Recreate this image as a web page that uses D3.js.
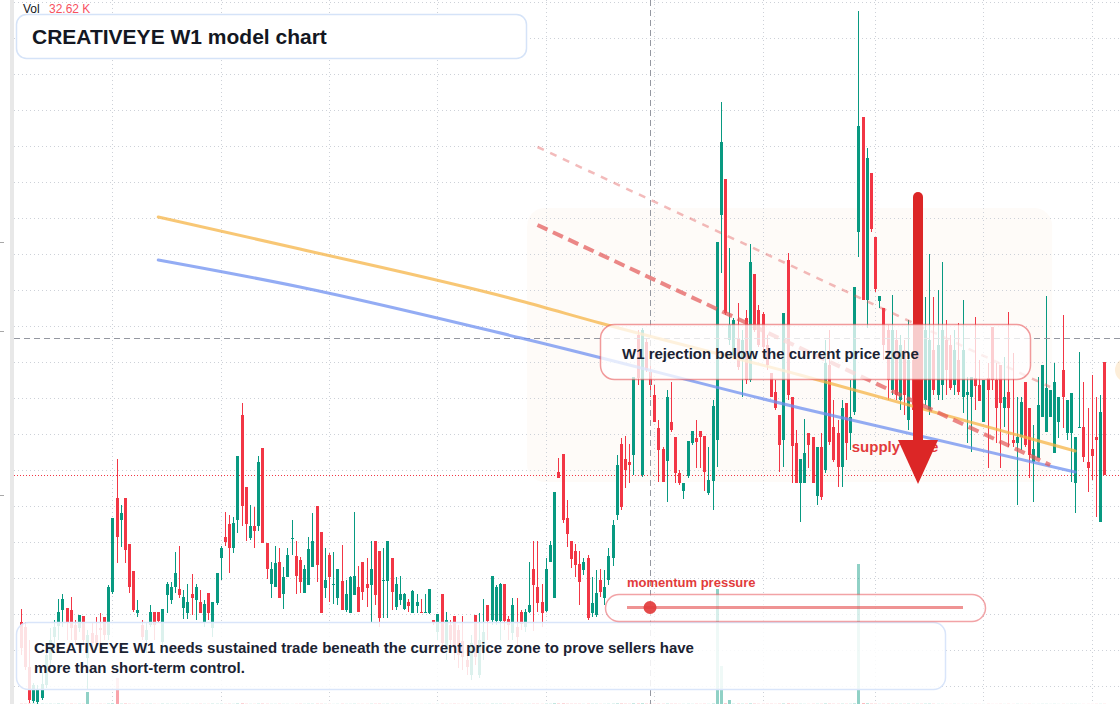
<!DOCTYPE html>
<html>
<head>
<meta charset="utf-8">
<title>CREATIVEYE W1 model chart</title>
<script src="https://cdn.jsdelivr.net/npm/d3@7"></script>
<style>
  html, body { margin: 0; padding: 0; background: #fff; overflow: hidden; }
  svg { display: block; font-family: "Liberation Sans", Arial, Helvetica, sans-serif; }
</style>
</head>
<body>
<div id="chart"></div>
<script>
// weekly candles (index 0 = first visible bar)
const opens = [
  1.00, 0.95, 0.55, 0.21, 0.20, 0.24, 0.37, 0.62, 0.85, 0.96,
  1.12, 1.14, 1.12, 0.97, 0.94, 1.06, 0.64, 0.89, 0.87, 0.94,
  1.05, 0.87, 1.30, 2.24, 2.02, 2.24, 1.78, 1.51, 1.09, 0.97,
  0.82, 0.97, 1.10, 1.10, 0.80, 1.27, 1.22, 1.35, 1.33, 1.14,
  1.09, 1.28, 1.22, 1.20, 1.00, 1.29, 0.94, 1.19, 1.64, 1.85,
  1.98, 1.74, 2.02, 3.07, 2.35, 1.84, 1.96, 1.96, 2.74, 1.79,
  1.38, 1.35, 1.60, 1.28, 1.45, 1.83, 1.66, 1.62, 1.29, 1.37,
  1.55, 2.16, 1.90, 1.34, 1.67, 1.37, 1.24, 1.41, 1.12, 1.09,
  1.27, 1.35, 1.60, 1.38, 1.37, 1.81, 1.71, 1.41, 1.41, 1.64,
  1.15, 1.22, 1.13, 1.20, 1.09, 1.16, 1.10, 1.09, 1.09, 1.02,
  0.90, 1.28, 0.72, 0.97, 1.06, 0.92, 0.81, 0.62, 0.47, 1.07,
  0.47, 0.69, 1.17, 1.02, 1.01, 1.01, 1.38, 1.03, 0.89, 0.95,
  1.10, 0.95, 1.10, 1.53, 1.35, 1.20, 1.11, 1.60, 1.24, 2.50,
  2.68, 2.04, 1.81, 1.71, 1.58, 1.52, 1.64, 1.09, 1.07, 1.42,
  1.24, 1.42, 1.64, 2.07, 2.78, 2.63, 2.60, 2.67, 3.87, 2.47,
  3.80, 3.50, 3.27, 2.94, 2.73, 2.61, 3.00, 2.85, 2.49, 2.31,
  2.46, 2.79, 2.84, 2.91, 2.86, 2.29, 2.41, 2.82, 5.07, 5.43,
  3.82, 3.67, 3.84, 3.62, 4.04, 3.42, 4.48, 4.12, 4.08, 3.77,
  3.49, 3.30, 3.07, 2.82, 4.62, 3.25, 2.79, 2.39, 2.39, 2.89,
  2.85, 2.26, 2.75, 2.52, 3.57, 2.95, 2.89, 2.55, 3.19, 2.89,
  3.10, 4.90, 6.05, 4.22, 5.49, 4.85, 4.21, 4.14, 3.92, 3.32,
  3.82, 3.22, 3.72, 3.02, 3.62, 3.02, 3.52, 3.22, 3.12, 3.72,
  3.27, 3.37, 3.82, 3.77, 3.37, 3.62, 3.25, 3.27, 3.25, 3.44,
  3.37, 3.00, 3.44, 3.95, 3.42, 3.57, 3.14, 3.30, 2.82, 2.79,
  2.85, 3.40, 3.14, 2.60, 2.64, 3.05, 2.90, 3.05, 2.69, 3.00,
  3.52, 2.89, 2.89, 2.39, 2.94, 2.95, 2.60, 2.73, 2.85, 2.00,
  3.60
];
const highs = [
  1.13, 1.00, 0.82, 0.39, 0.37, 0.50, 0.72, 0.94, 1.02, 1.23,
  1.28, 1.14, 1.25, 1.02, 1.07, 1.06, 0.92, 0.99, 1.05, 1.09,
  1.05, 1.37, 2.04, 2.63, 2.17, 2.24, 1.78, 1.51, 1.22, 1.02,
  0.99, 1.17, 1.10, 1.10, 1.13, 1.40, 1.40, 1.70, 1.76, 1.32,
  1.38, 1.48, 1.38, 1.32, 1.22, 1.29, 1.20, 1.49, 1.76, 2.10,
  2.07, 2.05, 2.66, 3.19, 2.35, 2.17, 2.15, 2.66, 2.74, 1.79,
  1.60, 1.76, 1.74, 1.55, 1.74, 2.02, 1.81, 1.65, 1.57, 1.85,
  2.09, 2.16, 1.90, 1.74, 1.69, 1.70, 1.53, 1.77, 1.42, 1.46,
  2.10, 1.56, 1.60, 1.64, 1.81, 1.81, 1.71, 1.74, 1.81, 1.64,
  1.45, 1.46, 1.29, 1.23, 1.32, 1.28, 1.23, 1.28, 1.33, 1.02,
  1.08, 1.28, 1.10, 1.02, 1.06, 0.97, 1.06, 0.77, 0.87, 1.07,
  1.09, 1.23, 1.17, 1.46, 1.37, 1.39, 1.38, 1.06, 1.24, 1.24,
  1.12, 1.13, 1.60, 1.81, 1.81, 1.38, 1.64, 1.81, 2.30, 2.64,
  2.68, 2.22, 1.81, 1.78, 1.71, 1.64, 1.67, 1.45, 1.52, 1.53,
  1.52, 1.74, 2.02, 2.67, 2.84, 2.86, 2.78, 3.45, 3.92, 3.94,
  3.84, 3.57, 3.37, 3.02, 2.75, 3.32, 3.40, 2.85, 2.52, 2.39,
  2.81, 2.91, 3.02, 2.91, 2.86, 2.75, 3.22, 4.80, 6.20, 5.43,
  4.74, 4.04, 4.19, 3.92, 4.12, 4.78, 4.48, 4.17, 4.10, 3.87,
  3.49, 3.42, 3.07, 4.09, 4.69, 3.25, 2.92, 2.63, 3.03, 2.89,
  2.85, 2.75, 2.89, 3.82, 3.92, 3.22, 3.02, 3.22, 3.19, 3.42,
  4.35, 7.11, 6.05, 5.74, 5.49, 4.85, 4.26, 4.14, 3.97, 4.27,
  3.92, 3.87, 3.82, 4.02, 3.92, 3.72, 3.77, 4.25, 4.68, 4.25,
  4.32, 4.60, 4.02, 3.87, 3.92, 3.99, 4.22, 3.45, 3.45, 4.05,
  3.62, 3.42, 3.59, 3.95, 3.59, 3.57, 3.65, 4.10, 3.69, 3.25,
  3.25, 3.40, 3.14, 2.97, 3.45, 3.57, 4.26, 3.32, 3.59, 3.25,
  4.07, 3.22, 3.29, 2.85, 3.70, 3.40, 3.14, 3.47, 3.25, 3.27,
  3.60
];
const lows = [
  0.67, 0.52, 0.19, 0.19, 0.18, 0.22, 0.34, 0.57, 0.72, 0.82,
  0.95, 0.82, 0.82, 0.77, 0.90, 0.77, 0.32, 0.69, 0.72, 0.75,
  0.82, 0.82, 1.28, 1.59, 1.75, 1.59, 1.29, 1.10, 1.05, 0.82,
  0.69, 0.95, 0.82, 1.00, 0.77, 1.09, 1.18, 1.29, 1.24, 1.03,
  1.03, 1.07, 1.02, 1.09, 0.95, 1.02, 0.85, 1.17, 1.42, 1.76,
  1.49, 1.69, 1.89, 1.96, 1.81, 1.82, 1.74, 1.91, 1.79, 1.43,
  1.24, 1.35, 1.24, 1.13, 1.45, 1.67, 1.28, 1.29, 1.29, 1.37,
  1.55, 1.40, 1.09, 1.24, 1.20, 1.18, 1.17, 1.12, 1.10, 1.09,
  1.27, 1.10, 1.22, 1.15, 1.00, 1.17, 0.95, 1.04, 1.04, 1.12,
  1.12, 1.17, 1.12, 1.10, 1.09, 1.09, 1.09, 1.09, 1.08, 0.97,
  0.82, 0.72, 0.62, 0.72, 0.62, 0.54, 0.52, 0.47, 0.42, 0.57,
  0.44, 0.62, 0.82, 0.97, 0.97, 0.82, 0.92, 0.82, 0.82, 0.77,
  0.92, 0.90, 1.09, 0.91, 1.10, 0.95, 1.10, 1.60, 1.24, 2.44,
  1.99, 1.75, 1.54, 1.45, 1.17, 1.47, 1.02, 1.05, 1.05, 1.25,
  1.17, 1.37, 1.56, 2.02, 2.12, 2.34, 2.39, 2.47, 3.37, 2.45,
  3.50, 3.25, 3.00, 2.40, 2.40, 2.20, 2.90, 2.39, 2.37, 2.23,
  2.44, 2.77, 2.54, 2.54, 2.31, 2.27, 2.12, 2.55, 4.49, 4.07,
  3.77, 3.65, 3.52, 3.25, 3.38, 3.40, 3.90, 3.75, 3.72, 3.52,
  3.25, 3.12, 2.50, 2.55, 3.22, 2.39, 2.39, 2.00, 2.39, 2.54,
  2.39, 2.17, 2.22, 2.49, 2.77, 2.60, 2.35, 2.35, 2.62, 2.72,
  3.07, 4.65, 4.22, 3.94, 4.90, 4.30, 4.14, 3.62, 3.22, 3.27,
  3.22, 3.12, 3.07, 2.92, 3.02, 2.92, 3.17, 3.17, 3.07, 3.27,
  3.22, 3.22, 3.27, 3.32, 3.27, 3.27, 3.09, 2.79, 2.70, 3.12,
  3.21, 3.00, 2.54, 3.32, 2.79, 2.54, 2.95, 2.75, 2.75, 2.17,
  2.72, 2.75, 2.44, 2.20, 2.64, 3.05, 2.90, 3.05, 2.69, 2.84,
  2.94, 2.82, 2.40, 2.09, 2.94, 2.60, 2.30, 2.42, 2.05, 2.00,
  2.47
];
const closes = [
  0.74, 0.55, 0.22, 0.37, 0.32, 0.38, 0.67, 0.82, 0.95, 1.10,
  1.23, 1.00, 0.94, 0.82, 1.07, 0.82, 0.87, 0.79, 0.79, 0.92,
  0.87, 1.35, 2.04, 1.85, 2.09, 1.72, 1.35, 1.12, 1.12, 0.85,
  0.92, 1.10, 0.97, 1.01, 1.13, 1.38, 1.35, 1.49, 1.27, 1.25,
  1.20, 1.24, 1.35, 1.09, 1.18, 1.09, 1.20, 1.49, 1.74, 1.80,
  1.74, 1.99, 2.66, 2.16, 1.98, 1.96, 1.91, 2.60, 1.79, 1.53,
  1.53, 1.59, 1.24, 1.45, 1.67, 1.84, 1.46, 1.40, 1.53, 1.73,
  1.81, 1.57, 1.09, 1.42, 1.45, 1.38, 1.53, 1.12, 1.28, 1.45,
  1.46, 1.10, 1.30, 1.34, 1.53, 1.27, 1.04, 1.42, 1.81, 1.30,
  1.38, 1.28, 1.28, 1.16, 1.31, 1.20, 1.09, 1.10, 1.33, 1.00,
  1.08, 0.79, 1.02, 0.82, 0.75, 0.67, 0.65, 0.55, 0.79, 0.65,
  0.82, 0.90, 1.01, 1.46, 1.35, 1.38, 1.01, 0.97, 1.17, 0.85,
  0.98, 1.10, 1.17, 1.37, 1.19, 1.09, 1.53, 1.77, 2.30, 2.44,
  2.02, 1.88, 1.63, 1.57, 1.40, 1.60, 1.04, 1.19, 1.29, 1.30,
  1.35, 1.66, 1.97, 2.57, 2.15, 2.52, 2.57, 3.45, 3.44, 3.92,
  3.52, 3.37, 3.00, 2.72, 2.40, 3.25, 2.92, 2.49, 2.39, 2.39,
  2.81, 2.91, 2.80, 2.85, 2.50, 2.42, 3.16, 4.80, 5.80, 4.09,
  3.97, 4.02, 3.55, 3.82, 3.42, 4.60, 3.92, 3.77, 3.75, 3.57,
  3.25, 3.14, 2.77, 4.09, 3.27, 2.76, 2.39, 2.63, 2.69, 2.77,
  2.39, 2.75, 2.25, 3.59, 2.80, 2.62, 2.55, 3.14, 2.79, 3.05,
  4.35, 5.96, 4.22, 5.64, 4.93, 4.33, 4.26, 3.77, 3.42, 3.92,
  3.27, 3.77, 3.27, 3.62, 3.12, 3.52, 3.22, 3.92, 3.82, 3.32,
  3.77, 3.92, 3.52, 3.34, 3.72, 3.30, 3.72, 3.30, 3.45, 3.36,
  3.21, 3.42, 3.32, 3.42, 3.14, 3.19, 3.25, 3.14, 2.79, 2.85,
  3.20, 2.77, 2.67, 2.73, 3.17, 3.57, 3.34, 3.32, 3.40, 3.25,
  3.25, 3.22, 3.29, 2.85, 2.95, 2.65, 2.54, 2.66, 2.82, 3.10,
  2.47
];
// volume in thousands
const volumes = [
  1.0, 0.8, 1.5, 1.2, 0.8, 1.0, 0.5, 0.8, 0.5, 1.2,
  0.8, 0.5, 1.0, 0.5, 0.8, 0.8, 48, 0.5, 0.5, 0.8,
  0.5, 1.2, 2.2, 104, 1.0, 1.5, 0.8, 0.5, 0.5, 0.8,
  0.5, 0.8, 0.5, 0.3, 1.0, 0.8, 0.5, 0.8, 0.5, 0.5,
  0.8, 0.5, 0.5, 0.8, 0.5, 0.5, 1.0, 0.8, 0.8, 0.5,
  0.8, 0.5, 1.5, 2.0, 0.8, 0.5, 0.5, 1.0, 1.2, 0.8,
  0.5, 0.5, 0.8, 0.5, 0.5, 0.3, 0.5, 0.8, 0.5, 0.8,
  0.8, 1.0, 0.8, 0.5, 0.5, 0.3, 0.5, 0.8, 0.5, 0.5,
  0.8, 0.5, 0.5, 0.5, 0.8, 0.8, 1.0, 0.5, 0.8, 0.5,
  0.5, 0.5, 0.3, 0.3, 0.5, 0.3, 0.3, 0.3, 0.5, 0.3,
  0.5, 0.8, 0.5, 0.5, 0.8, 0.5, 0.5, 0.5, 0.8, 0.5,
  0.8, 0.5, 0.5, 1.0, 0.8, 0.8, 0.8, 0.5, 0.8, 0.5,
  0.5, 0.5, 0.5, 0.8, 0.8, 0.5, 1.0, 0.8, 2.2, 1.5,
  1.8, 1.0, 0.8, 0.8, 0.8, 0.5, 1.0, 0.8, 0.8, 0.5,
  0.5, 0.8, 1.0, 1.8, 1.5, 1.0, 0.8, 2.0, 1.5, 2.2,
  1.2, 1.0, 0.8, 1.0, 0.8, 1.2, 0.8, 0.8, 0.5, 0.5,
  0.8, 0.5, 0.8, 0.5, 0.8, 0.5, 1.5, 460, 152, 2.2,
  16, 1.0, 1.2, 1.0, 1.0, 1.8, 1.2, 0.8, 0.8, 0.8,
  0.8, 0.5, 1.0, 1.5, 1.8, 1.0, 0.8, 0.8, 0.5, 0.5,
  0.8, 0.8, 0.8, 1.5, 1.2, 0.8, 0.8, 1.0, 0.8, 0.8,
  2.0, 560, 3.0, 2.2, 1.2, 1.0, 0.5, 0.8, 1.0, 1.0,
  0.8, 0.8, 0.8, 1.0, 0.8, 0.8, 0.8, 1.0, 1.2, 0.8,
  0.5, 0.5, 0.3, 0.3, 0.5, 0.3, 0.5, 0.3, 0.3, 0.5,
  0.3, 0.3, 0.5, 0.3, 0.3, 0.5, 0.3, 0.5, 0.3, 0.5,
  0.3, 0.3, 0.5, 0.3, 0.3, 0.5, 0.5, 0.3, 0.5, 0.3,
  0.5, 0.3, 0.5, 0.5, 0.3, 0.3, 0.3, 0.3, 0.5, 0.5,
  0.5
];

// grid: price levels and the bar indexes where the time grid falls
const gridPrices = [7.20, 6.84, 6.48, 6.12, 5.76, 5.40, 5.04, 4.68, 4.32, 3.96,
  3.60, 3.24, 2.88, 2.52, 2.16, 1.80, 1.44, 1.08, 0.72, 0.36];
const gridBars = [22, 48, 74, 100, 126, 152, 178, 205, 231, 257];
const axisMarks = [4.80, 3.91, 2.27];

const lastPrice = 2.47;
const crossBar = 151;
const crossPrice = 3.84;
const volLabel = "32.62 K";

// model overlays
const orangeBars = [33, 67, 120, 139, 187, 253];
const orangePrices = [5.05, 4.73, 4.21, 3.99, 3.47, 2.71];
const blueBars = [33, 67, 120, 187, 253];
const bluePrices = [4.62, 4.35, 3.84, 3.14, 2.50];
const rejectBars = [124, 247];
const rejectPrices = [4.97, 2.57];
const upperBars = [124, 247];
const upperPrices = [5.75, 3.35];
const zoneBars = [121.5, 247.5];
const zonePrices = [5.14, 2.40];
const arrowBar = 215.3;
const arrowPrices = [5.25, 2.82, 2.38]; // top, head base, tip

const title = "CREATIVEYE W1 model chart";
const noteLines = [
  "CREATIVEYE W1 needs sustained trade beneath the current price zone to prove sellers have",
  "more than short-term control."
];
const calloutText = "W1 rejection below the current price zone";

const width = 1120;
const height = 704;
const upColor = "#089981";
const downColor = "#f23645";

let svg = d3
  .select("#chart")
  .append("svg")
  .attr("width", width)
  .attr("height", height)
  .attr("viewBox", `0 0 ${width} ${height}`);

let x = d3.scaleLinear().domain([0, 260]).range([20.7, 1104.3]);
let y = d3.scaleLinear().domain([0, 7.22]).range([722, 0]);
let yVol = d3.scaleLinear().domain([0, 700]).range([height, height - 175]);

let bars = opens.map((o, i) => ({
  i: i,
  o: o,
  h: highs[i],
  l: lows[i],
  c: closes[i],
  v: volumes[i],
}));

svg.append("rect").attr("width", width).attr("height", height).attr("fill", "#fff");

// supply zone shading
svg
  .append("rect")
  .attr("x", x(zoneBars[0]))
  .attr("y", y(zonePrices[0]))
  .attr("width", x(zoneBars[1]) - x(zoneBars[0]))
  .attr("height", y(zonePrices[1]) - y(zonePrices[0]))
  .attr("rx", 18)
  .attr("fill", "rgba(240,150,70,0.035)");

// grid
let grid = svg.append("g").attr("stroke", "#cdd1d8").attr("stroke-width", 1).attr("stroke-dasharray", "1,3");
grid
  .selectAll("line.h")
  .data(gridPrices)
  .enter()
  .append("line")
  .attr("x1", 14)
  .attr("x2", width)
  .attr("y1", (d) => Math.round(y(d)) + 0.5)
  .attr("y2", (d) => Math.round(y(d)) + 0.5);
grid
  .selectAll("line.v")
  .data(gridBars)
  .enter()
  .append("line")
  .attr("x1", (d) => Math.round(x(d)) + 0.5)
  .attr("x2", (d) => Math.round(x(d)) + 0.5)
  .attr("y1", 0)
  .attr("y2", height);

// left edge strip
svg.append("rect").attr("x", 10).attr("y", 0).attr("width", 4).attr("height", height).attr("fill", "#e8e8e8");
svg
  .selectAll("line.mark")
  .data(axisMarks)
  .enter()
  .append("line")
  .attr("x1", 0)
  .attr("x2", 4)
  .attr("y1", (d) => Math.round(y(d)) + 0.5)
  .attr("y2", (d) => Math.round(y(d)) + 0.5)
  .attr("stroke", "#a8a8a8");

// volume histogram
svg
  .append("g")
  .selectAll("rect")
  .data(bars)
  .enter()
  .append("rect")
  .attr("x", (d) => Math.round(x(d.i)) - 1)
  .attr("width", 3)
  .attr("y", (d) => yVol(d.v))
  .attr("height", (d) => height - yVol(d.v))
  .attr("fill", (d) => (d.c >= d.o ? "rgba(8,153,129,0.45)" : "rgba(242,54,69,0.45)"));

// last price line
svg
  .append("line")
  .attr("x1", 14)
  .attr("x2", width)
  .attr("y1", Math.round(y(lastPrice)) + 0.5)
  .attr("y2", Math.round(y(lastPrice)) + 0.5)
  .attr("stroke", downColor)
  .attr("stroke-width", 1)
  .attr("stroke-dasharray", "1,2");

// candles
let gCandles = svg.append("g");
gCandles
  .selectAll("rect.wick")
  .data(bars)
  .enter()
  .append("rect")
  .attr("x", (d) => Math.round(x(d.i)))
  .attr("width", 1)
  .attr("y", (d) => y(d.h))
  .attr("height", (d) => Math.max(1, y(d.l) - y(d.h)))
  .attr("fill", (d) => (d.c >= d.o ? upColor : downColor));
gCandles
  .selectAll("rect.body")
  .data(bars)
  .enter()
  .append("rect")
  .attr("x", (d) => Math.round(x(d.i)) - 1)
  .attr("width", 3)
  .attr("y", (d) => y(Math.max(d.o, d.c)))
  .attr("height", (d) => Math.max(1, Math.abs(y(d.o) - y(d.c))))
  .attr("fill", (d) => (d.c >= d.o ? upColor : downColor));

// crosshair
svg
  .append("line")
  .attr("x1", Math.round(x(crossBar)) + 0.5)
  .attr("x2", Math.round(x(crossBar)) + 0.5)
  .attr("y1", 0)
  .attr("y2", height)
  .attr("stroke", "#9598a1")
  .attr("stroke-dasharray", "6,4");
svg
  .append("line")
  .attr("x1", 14)
  .attr("x2", width)
  .attr("y1", Math.round(y(crossPrice)) + 0.5)
  .attr("y2", Math.round(y(crossPrice)) + 0.5)
  .attr("stroke", "#9598a1")
  .attr("stroke-dasharray", "6,4");

// model lines
let curve = d3
  .line()
  .x((d) => x(d[0]))
  .y((d) => y(d[1]))
  .curve(d3.curveMonotoneX);

svg
  .append("path")
  .attr("d", curve(orangeBars.map((b, k) => [b, orangePrices[k]])))
  .attr("fill", "none")
  .attr("stroke", "#f6b447")
  .attr("stroke-opacity", 0.75)
  .attr("stroke-width", 3)
  .attr("stroke-linecap", "round");
svg
  .append("path")
  .attr("d", curve(blueBars.map((b, k) => [b, bluePrices[k]])))
  .attr("fill", "none")
  .attr("stroke", "#6f90f0")
  .attr("stroke-opacity", 0.75)
  .attr("stroke-width", 3)
  .attr("stroke-linecap", "round");
svg
  .append("path")
  .attr("d", curve(upperBars.map((b, k) => [b, upperPrices[k]])))
  .attr("fill", "none")
  .attr("stroke", "#e25555")
  .attr("stroke-opacity", 0.4)
  .attr("stroke-width", 2.5)
  .attr("stroke-dasharray", "7,7");
svg
  .append("path")
  .attr("d", curve(rejectBars.map((b, k) => [b, rejectPrices[k]])))
  .attr("fill", "none")
  .attr("stroke", "#e25555")
  .attr("stroke-opacity", 0.7)
  .attr("stroke-width", 4)
  .attr("stroke-dasharray", "11,6");

// right edge marker
svg.append("circle").attr("cx", 1127).attr("cy", y(3.52)).attr("r", 12).attr("fill", "rgba(246,178,80,0.22)");

// supply label and arrow
svg
  .append("text")
  .attr("x", x(199.4))
  .attr("y", 452)
  .attr("font-size", 15)
  .attr("font-weight", "bold")
  .attr("fill", "#e23b3b")
  .text("supply zone");

let ax = x(arrowBar);
svg
  .append("line")
  .attr("x1", ax)
  .attr("x2", ax)
  .attr("y1", y(arrowPrices[0]))
  .attr("y2", y(arrowPrices[1]) + 4)
  .attr("stroke", "#dc2626")
  .attr("stroke-width", 10)
  .attr("stroke-linecap", "round");
svg
  .append("path")
  .attr(
    "d",
    `M${ax - 20},${y(arrowPrices[1])} L${ax + 20},${y(arrowPrices[1])} L${ax},${y(arrowPrices[2])} Z`
  )
  .attr("fill", "#dc2626");

// callout box
svg
  .append("rect")
  .attr("x", 600.5)
  .attr("y", 324.5)
  .attr("width", 430)
  .attr("height", 55)
  .attr("rx", 14)
  .attr("fill", "rgba(255,255,255,0.76)")
  .attr("stroke", "rgba(229,72,77,0.55)")
  .attr("stroke-width", 1.5);
svg
  .append("text")
  .attr("x", 622)
  .attr("y", 359)
  .attr("font-size", 15)
  .attr("font-weight", "bold")
  .attr("fill", "#1b2333")
  .text(calloutText);

// bottom note
svg
  .append("rect")
  .attr("x", 16.5)
  .attr("y", 622.5)
  .attr("width", 929)
  .attr("height", 67)
  .attr("rx", 12)
  .attr("fill", "rgba(255,255,255,0.86)")
  .attr("stroke", "#d9e5fa")
  .attr("stroke-width", 1.5);
svg
  .append("g")
  .selectAll("text")
  .data(noteLines)
  .enter()
  .append("text")
  .attr("x", 34)
  .attr("y", (d, i) => 653 + i * 20)
  .attr("font-size", 15)
  .attr("font-weight", "bold")
  .attr("fill", "#1b2333")
  .text((d) => d);

// momentum pressure slider
svg
  .append("text")
  .attr("x", 627)
  .attr("y", 587)
  .attr("font-size", 13)
  .attr("font-weight", "bold")
  .attr("fill", "#e23b3b")
  .text("momentum pressure");
svg
  .append("rect")
  .attr("x", 605.5)
  .attr("y", 594.5)
  .attr("width", 380)
  .attr("height", 27)
  .attr("rx", 13.5)
  .attr("fill", "rgba(255,255,255,0.65)")
  .attr("stroke", "rgba(229,72,77,0.5)")
  .attr("stroke-width", 1.5);
svg
  .append("line")
  .attr("x1", 627)
  .attr("x2", 963)
  .attr("y1", 607.5)
  .attr("y2", 607.5)
  .attr("stroke", "rgba(226,59,59,0.55)")
  .attr("stroke-width", 3);
svg
  .append("circle")
  .attr("cx", x(crossBar))
  .attr("cy", 607.5)
  .attr("r", 6.5)
  .attr("fill", "#e23b3b")
  .attr("fill-opacity", 0.92);

// title
svg
  .append("rect")
  .attr("x", 16.5)
  .attr("y", 14.5)
  .attr("width", 510)
  .attr("height", 44)
  .attr("rx", 10)
  .attr("fill", "#fff")
  .attr("stroke", "#d5e3f8")
  .attr("stroke-width", 1.5);
svg
  .append("text")
  .attr("x", 32)
  .attr("y", 44)
  .attr("font-size", 21)
  .attr("font-weight", "bold")
  .attr("fill", "#131722")
  .text(title);

// volume legend
let legend = svg.append("text").attr("y", 13).attr("font-size", 12);
legend.append("tspan").attr("x", 23).attr("fill", "#131722").text("Vol");
legend.append("tspan").attr("x", 49).attr("fill", "#f7525f").text(volLabel);
</script>
</body>
</html>
